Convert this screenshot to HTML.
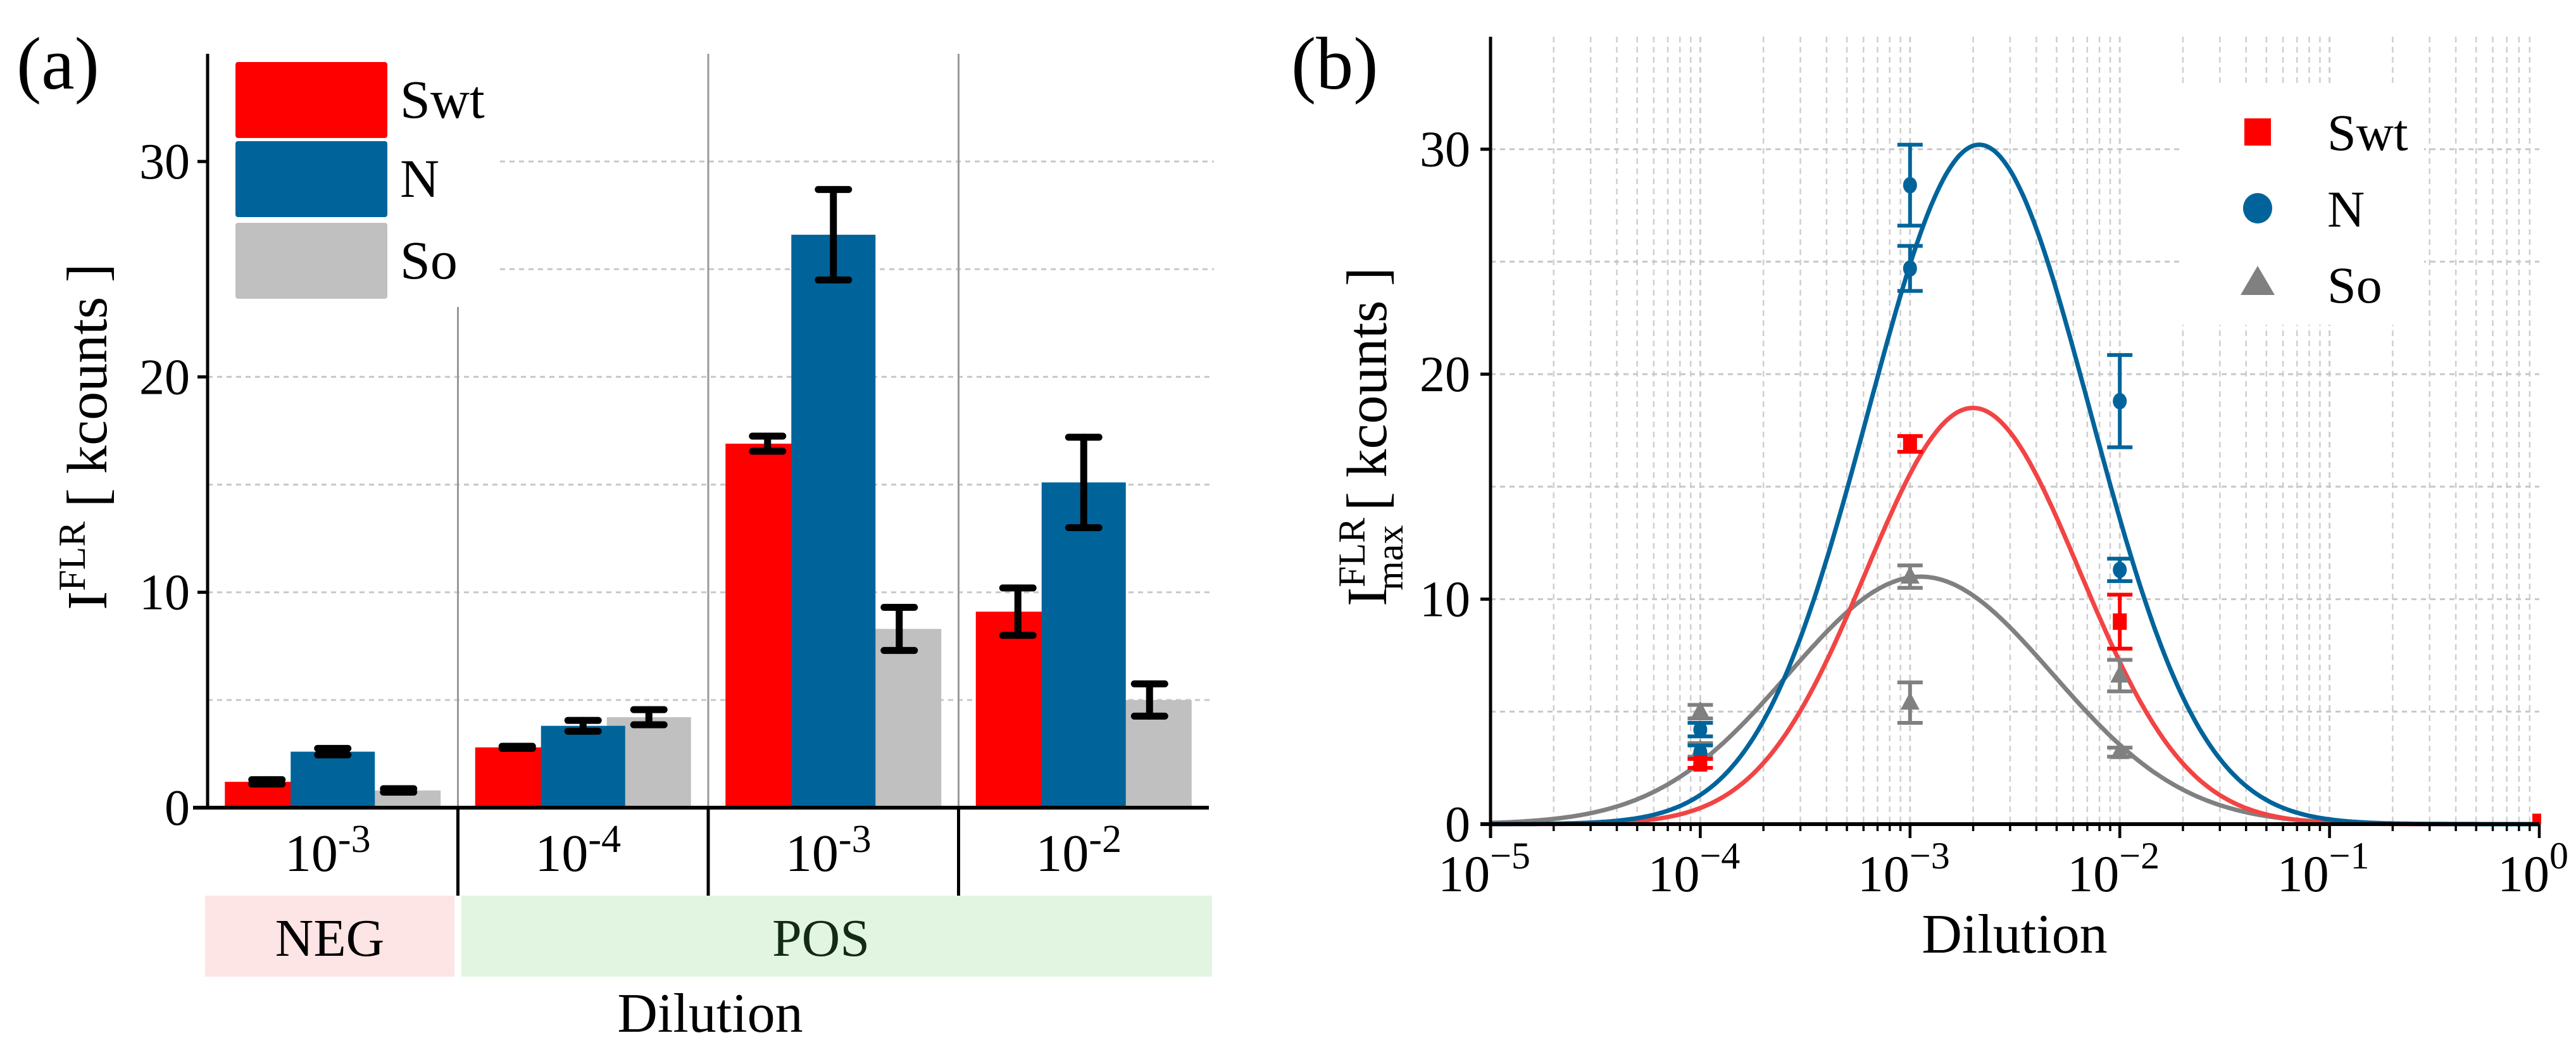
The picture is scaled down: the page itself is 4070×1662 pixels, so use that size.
<!DOCTYPE html>
<html><head><meta charset="utf-8"><style>
html,body{margin:0;padding:0;background:#fff;}
svg{display:block;font-family:"Liberation Serif",serif;}
</style></head><body>
<svg id="fig" width="4070" height="1662" viewBox="0 0 4070 1662" xmlns="http://www.w3.org/2000/svg">
<defs><clipPath id="bclip"><rect x="2355" y="40" width="1660" height="1262"/></clipPath></defs>
<g id="pa"></g>
<g id="pb"></g>
</svg>
<script>
// ---------- Panel (a) data ----------
const aCategories = ["-3","-4","-3","-2"];
const aSeries = ["Swt","N","So"];
const aSwt = [1.2, 2.8, 16.9, 9.1];
const aN   = [2.6, 3.8, 26.6, 15.1];
const aSo  = [0.8, 4.2, 8.3, 5.0];
const aSwtErr = [0.1, 0.05, 0.35, 1.1];
const aNErr   = [0.15, 0.25, 2.1, 2.1];
const aSoErr  = [0.08, 0.35, 1.0, 0.75];
const aTicks = [0, 10, 20, 30];
const aGrid = [5, 10, 15, 20, 25, 30];

// ---------- Panel (b) data ----------
const bXTicksExp = [-5, -4, -3, -2, -1, 0];
const bYTicks = [0, 10, 20, 30];
const bSwtX = [1e-4, 1e-3, 1e-2, 1];
const bSwtY = [2.7, 16.9, 9.0, 0.1];
const bSwtE = [0.2, 0.35, 1.2, 0];
const bNX = [1e-4, 1e-4, 1e-3, 1e-3, 1e-2, 1e-2];
const bNY = [4.2, 3.2, 28.4, 24.7, 18.8, 11.3];
const bNE = [0.3, 0.3, 1.8, 1.0, 2.05, 0.5];
const bSoX = [1e-4, 1e-4, 1e-3, 1e-3, 1e-2, 1e-2];
const bSoY = [5.0, 3.3, 11.0, 5.4, 6.6, 3.2];
const bSoE = [0.3, 0.3, 0.5, 0.9, 0.7, 0.2];
// Gaussian fit parameters (in log10 dilution): peak, center, sigma
const fitPeak   = [18.5, 30.2, 11.0];
const fitCenter = [-2.70, -2.67, -2.95];
const fitSigma  = [0.51, 0.53, 0.63];

const NS = "http://www.w3.org/2000/svg";
function mk(parent, tag, attrs, text){
  const e = document.createElementNS(NS, tag);
  for (const k in attrs) e.setAttribute(k, attrs[k]);
  if (text !== undefined) e.textContent = text;
  parent.appendChild(e);
  return e;
}
const red="#ff0000", blue="#00649b", grayBar="#c0c0c0", grayPt="#808080", redLine="#f24444";

// ================= PANEL A =================
const pa = document.getElementById("pa");
const ax0 = 328, ax1 = 1910, ay0 = 1276, ayTop = 85;
const aY = v => ay0 - v * (ay0 - ayTop) / 35;
const catW = (ax1 - ax0) / aCategories.length;
const aX = i => ax0 + catW * (i + 0.5);

let t = mk(pa, "text", {x: 26, y: 140, "font-size": 118});
t.textContent = "(a)";



aGrid.forEach(g => {
  const x0 = (g >= 25) ? 790 : ax0;
  const l = mk(pa, "line", {x1: x0, x2: ax1 + 8, y1: aY(g), y2: aY(g), stroke: "#c8c8c8", "stroke-width": 3, "stroke-dasharray": "8 7"});
  
  
});
for (let i = 1; i < aCategories.length; i++) {
  const x = ax0 + catW * i;
  const sep = mk(pa, "line", {x1: x, x2: x, y1: i === 1 ? 485 : ayTop, y2: ay0, stroke: "#999", "stroke-width": 3});
  
  
  const sep2 = mk(pa, "line", {x1: x, x2: x, y1: ay0, y2: 1415, stroke: "#000", "stroke-width": 5});
  
  
}
const aVals = [aSwt, aN, aSo], aErrs = [aSwtErr, aNErr, aSoErr], aCols = [red, blue, grayBar];
const barW = 133, off = [-104, 0, 104], order = [0, 2, 1];
aCategories.forEach((c, i) => {
  order.forEach(s => {
    const v = aVals[s][i];
    const b = mk(pa, "rect", {x: aX(i) + off[s] - barW / 2, y: aY(v), width: barW, height: ay0 - aY(v), fill: aCols[s]});
    
    
  });
});
aCategories.forEach((c, i) => {
  [0, 1, 2].forEach(s => {
    const v = aVals[s][i], e = aErrs[s][i], cx = aX(i) + off[s];
    const g = mk(pa, "g", {stroke: "#000", "stroke-width": 11, "stroke-linecap": "round"});
    
    
    mk(g, "line", {x1: cx, x2: cx, y1: aY(v + e), y2: aY(v - e)});
    mk(g, "line", {x1: cx - 24, x2: cx + 24, y1: aY(v + e), y2: aY(v + e)});
    mk(g, "line", {x1: cx - 24, x2: cx + 24, y1: aY(v - e), y2: aY(v - e)});
  });
});
// axes
let axl = mk(pa, "line", {x1: ax0, x2: ax0, y1: ayTop, y2: ay0 + 3, stroke: "#000", "stroke-width": 5});
 
axl = mk(pa, "line", {x1: 305, x2: ax1, y1: ay0, y2: ay0, stroke: "#000", "stroke-width": 6});
 
aTicks.forEach(v => {
  mk(pa, "line", {x1: ax0 - 16, x2: ax0, y1: aY(v), y2: aY(v), stroke: "#000", "stroke-width": 5});
  const tl = mk(pa, "text", {x: 300, y: aY(v) + 27, "font-size": 80, "text-anchor": "end"}, String(v));
  
  
});
aCategories.forEach((c, i) => {
  const tl = mk(pa, "text", {x: aX(i) - 8, y: 1376, "font-size": 84, "text-anchor": "middle"});
  
  
  mk(tl, "tspan", {}, "10");
  mk(tl, "tspan", {dy: -30, "font-size": 62}, c);
});
let box = mk(pa, "rect", {x: 324, y: 1415, width: 394, height: 128, fill: "#fde4e5"});
 
t = mk(pa, "text", {x: 521, y: 1510, "font-size": 84, "text-anchor": "middle"}, "NEG");
 
box = mk(pa, "rect", {x: 729, y: 1415, width: 1186, height: 128, fill: "#e1f5e1"});
 
t = mk(pa, "text", {x: 1297, y: 1510, "font-size": 84, "text-anchor": "middle", fill: "#132a13"}, "POS");
 
t = mk(pa, "text", {x: 1122, y: 1630, "font-size": 88, "text-anchor": "middle"}, "Dilution");
 
t = mk(pa, "text", {transform: "translate(168,690) rotate(-90)", "font-size": 90, "text-anchor": "middle"});
 
mk(t, "tspan", {}, "I");
mk(t, "tspan", {dy: -34, "font-size": 60}, "FLR");
mk(t, "tspan", {dy: 34}, " [ kcounts ]");
// legend a
const lgA = mk(pa, "g", {});
 
const lgY = [98, 223, 352];
aSeries.forEach((s, i) => {
  const r = mk(lgA, "rect", {x: 372, y: lgY[i], width: 240, height: 120, rx: 4, fill: aCols[i]});
  
  
  const tx = mk(lgA, "text", {x: 632, y: lgY[i] + 88, "font-size": 86}, s);
  
  
});

// ================= PANEL B =================
const pb = document.getElementById("pb");
const bx0 = 2355, bx1 = 4012, by0 = 1302, byTop = 58;
const bX = v => bx0 + (Math.log10(v) + 5) * (bx1 - bx0) / 5;
const bY = v => by0 - v * (by0 - byTop) / 35;

t = mk(pb, "text", {x: 2040, y: 140, "font-size": 118}, "(b)");
 

for (let e = -5; e < 0; e++) {
  for (let m = 1; m <= 9; m++) {
    if (e === -5 && m === 1) continue;
    const x = bX(m * Math.pow(10, e));
    const l = mk(pb, "line", {x1: x, x2: x, y1: byTop, y2: by0, stroke: "#cfcfcf", "stroke-width": m === 1 ? 3 : 2.5, "stroke-dasharray": "9 7"});
     
  }
}
[5, 10, 15, 20, 25, 30].forEach(g => {
  const l = mk(pb, "line", {x1: bx0, x2: bx1, y1: bY(g), y2: bY(g), stroke: "#c8c8c8", "stroke-width": 3, "stroke-dasharray": "8 7"});
   
});
// legend b background
let lb = mk(pb, "rect", {x: 3445, y: 138, width: 385, height: 375, fill: "#fff"});
 

// fit curves
const fitCols = [redLine, blue, grayPt];
[2, 0, 1].forEach(s => {
  let d = "";
  for (let k = 0; k <= 500; k++) {
    const lx = -5 + 5 * k / 500;
    const y = fitPeak[s] * Math.exp(-Math.pow(lx - fitCenter[s], 2) / (2 * fitSigma[s] * fitSigma[s]));
    d += (k ? "L" : "M") + bX(Math.pow(10, lx)).toFixed(1) + "," + bY(y).toFixed(1);
  }
  const p = mk(pb, "path", {d: d, fill: "none", stroke: fitCols[s], "stroke-width": 7});
  
  
});
// points
const pts = mk(pb, "g", {"clip-path": "url(#bclip)"});


function errBar(g, cx, v, e, col) {
  if (e <= 0) return;
  mk(g, "line", {x1: cx, x2: cx, y1: bY(v + e), y2: bY(v - e), stroke: col, "stroke-width": 6});
  mk(g, "line", {x1: cx - 20, x2: cx + 20, y1: bY(v + e), y2: bY(v + e), stroke: col, "stroke-width": 6});
  mk(g, "line", {x1: cx - 20, x2: cx + 20, y1: bY(v - e), y2: bY(v - e), stroke: col, "stroke-width": 6});
}
bSoX.forEach((x, i) => {
  const g = mk(pts, "g", {});
  
  
  const cx = bX(x), cy = bY(bSoY[i]);
  errBar(g, cx, bSoY[i], bSoE[i], grayPt);
  mk(g, "polygon", {points: `${cx},${cy - 17} ${cx - 15},${cy + 11} ${cx + 15},${cy + 11}`, fill: grayPt});
});
bNX.forEach((x, i) => {
  const g = mk(pts, "g", {});
  
  
  const cx = bX(x), cy = bY(bNY[i]);
  errBar(g, cx, bNY[i], bNE[i], blue);
  mk(g, "ellipse", {cx: cx, cy: cy, rx: 11, ry: 13, fill: blue});
});
bSwtX.forEach((x, i) => {
  const g = mk(pts, "g", {});
  
  
  const cx = bX(x), cy = bY(bSwtY[i]);
  errBar(g, cx, bSwtY[i], bSwtE[i], red);
  mk(g, "rect", {x: cx - 11, y: cy - 13, width: 22, height: 26, fill: red});
});
// axes b
axl = mk(pb, "line", {x1: bx0, x2: bx0, y1: byTop, y2: by0 + 22, stroke: "#000", "stroke-width": 5});
 
axl = mk(pb, "line", {x1: bx0 - 16, x2: bx1, y1: by0, y2: by0, stroke: "#000", "stroke-width": 6});
 
for (let e = -5; e < 0; e++) {
  for (let m = 2; m <= 9; m++) {
    const x = bX(m * Math.pow(10, e));
    mk(pb, "line", {x1: x, x2: x, y1: by0, y2: by0 + 11, stroke: "#000", "stroke-width": 3.5});
  }
}
bXTicksExp.forEach(e => {
  const x = bX(Math.pow(10, e));
  mk(pb, "line", {x1: x, x2: x, y1: by0, y2: by0 + 22, stroke: "#000", "stroke-width": 4.5});
  const tl = mk(pb, "text", {x: x - 10, y: 1408, "font-size": 82, "text-anchor": "middle"});
  
  
  mk(tl, "tspan", {}, "10");
  mk(tl, "tspan", {dy: -36, "font-size": 60}, e === 0 ? "0" : "\u2212" + (-e));
});
bYTicks.forEach(v => {
  mk(pb, "line", {x1: bx0 - 16, x2: bx0, y1: bY(v), y2: bY(v), stroke: "#000", "stroke-width": 5});
  const tl = mk(pb, "text", {x: 2323, y: bY(v) + 27, "font-size": 80, "text-anchor": "end"}, String(v));
  
  
});
t = mk(pb, "text", {x: 3183, y: 1505, "font-size": 88, "text-anchor": "middle"}, "Dilution");
 
t = mk(pb, "text", {transform: "translate(2190,690) rotate(-90)", "font-size": 90, "text-anchor": "middle"});
 
mk(t, "tspan", {}, "I");
mk(t, "tspan", {dy: -34, "font-size": 60}, "FLR");
mk(t, "tspan", {dx: -115, dy: 60, "font-size": 60}, "max");
mk(t, "tspan", {dy: -26}, " [ kcounts ]");
// legend b
const lgB = mk(pb, "g", {});
 
let m1 = mk(lgB, "rect", {x: 3546, y: 187, width: 42, height: 43, fill: red});
 
m1 = mk(lgB, "ellipse", {cx: 3567, cy: 329, rx: 23, ry: 24, fill: blue});
 
m1 = mk(lgB, "polygon", {points: "3567,420 3540,466 3594,466", fill: grayPt});
 
[["Swt", 237], ["N", 358], ["So", 478]].forEach(([s, y]) => {
  const tx = mk(lgB, "text", {x: 3677, y: y, "font-size": 82}, s);
  
  
});
</script>
</body></html>
